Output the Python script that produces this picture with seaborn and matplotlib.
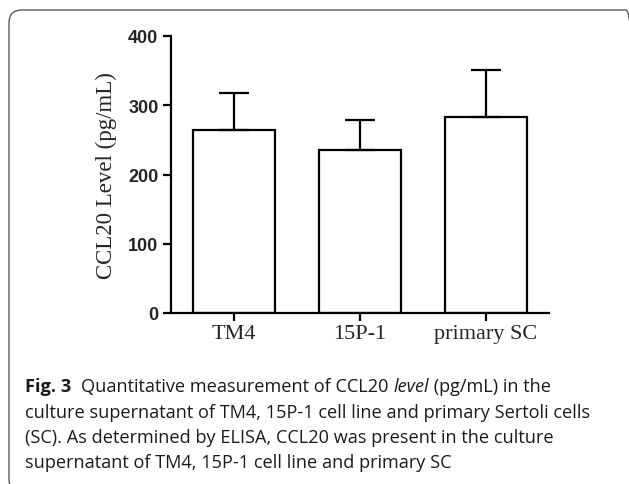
import matplotlib
matplotlib.use("Agg")
import matplotlib.pyplot as plt
from matplotlib.patches import FancyBboxPatch
from matplotlib.transforms import IdentityTransform
import seaborn as sns
import pandas as pd

categories = ["TM4", "15P-1", "primary SC"]
means = [264, 236, 283]
errors = [54, 42, 68]
yticks = [0, 100, 200, 300, 400]

sns.set_theme(style="ticks")
plt.rcParams['font.family'] = ['DejaVu Sans']

W, H = 629, 485
fig = plt.figure(figsize=(W/100, H/100), dpi=100)
ax = fig.add_axes([171/W, 1-314/H, 378/W, 277/H])

df = pd.DataFrame({"cat": categories, "val": means})
sns.barplot(data=df, x="cat", y="val", ax=ax, color="white", edgecolor="black",
            linewidth=1.6, width=0.65, errorbar=None)
ax.errorbar(range(len(categories)), means, yerr=[[0]*len(errors), errors],
            fmt="none", ecolor="black", elinewidth=1.6, capsize=11, capthick=1.6)

ax.set_xlim(-0.5, 2.5)
ax.set_ylim(0, 400)
ax.set_yticks(yticks)
ax.set_yticklabels([str(t) for t in yticks], fontfamily="Liberation Sans",
                   fontweight="bold", fontsize=13)
ax.set_xticks(range(len(categories)))
ax.set_xticklabels(categories, fontfamily="Liberation Serif", fontsize=16)
ax.set_xlabel("")
ax.set_ylabel("CCL20 Level (pg/mL)", fontfamily="Liberation Serif", fontsize=16.5,
              labelpad=8)
for s in ["top", "right"]:
    ax.spines[s].set_visible(False)
for s in ["left", "bottom"]:
    ax.spines[s].set_linewidth(1.6)
    ax.spines[s].set_color("black")
ax.tick_params(axis="both", width=1.6, length=6, color="black", pad=3)
ax.tick_params(axis="x", pad=2)

# rounded frame (pixel coordinates)
box = FancyBboxPatch((9, -8), 630, H - 11 + 8,
                     boxstyle="round,pad=0,rounding_size=13",
                     transform=IdentityTransform(), fill=False,
                     edgecolor="#5a5a5a", linewidth=1.0, clip_on=False)
fig.patches.append(box)

cap_lines = [
    None,
    "culture supernatant of TM4, 15P-1 cell line and primary Sertoli cells",
    "(SC). As determined by ELISA, CCL20 was present in the culture",
    "supernatant of TM4, 15P-1 cell line and primary SC",
]
FS = 13.1
col = "#1a1a1a"
x0 = 25/W
ys = [387, 413, 438, 463]
t = fig.text(x0, 1 - ys[0]/H, "Fig. 3", fontfamily="Open Sans", fontweight="bold",
             fontsize=FS, va="center", ha="left", color=col)
fig.canvas.draw()
r = fig.canvas.get_renderer()
bb = t.get_window_extent(r)
xpix = bb.x1 + 10
parts = [("Quantitative measurement of CCL20 ", "normal"), ("level", "italic"),
         (" (pg/mL) in the", "normal")]
for txt, st in parts:
    tt = fig.text(xpix/W, 1 - ys[0]/H, txt, fontfamily="Open Sans", fontstyle=st,
                  fontsize=FS, va="center", ha="left", color=col)
    bb = tt.get_window_extent(r)
    xpix = bb.x1
for line, y in zip(cap_lines[1:], ys[1:]):
    fig.text(x0, 1 - y/H, line, fontfamily="Open Sans", fontsize=FS,
             va="center", ha="left", color=col)

fig.savefig("out.png", dpi=100)
